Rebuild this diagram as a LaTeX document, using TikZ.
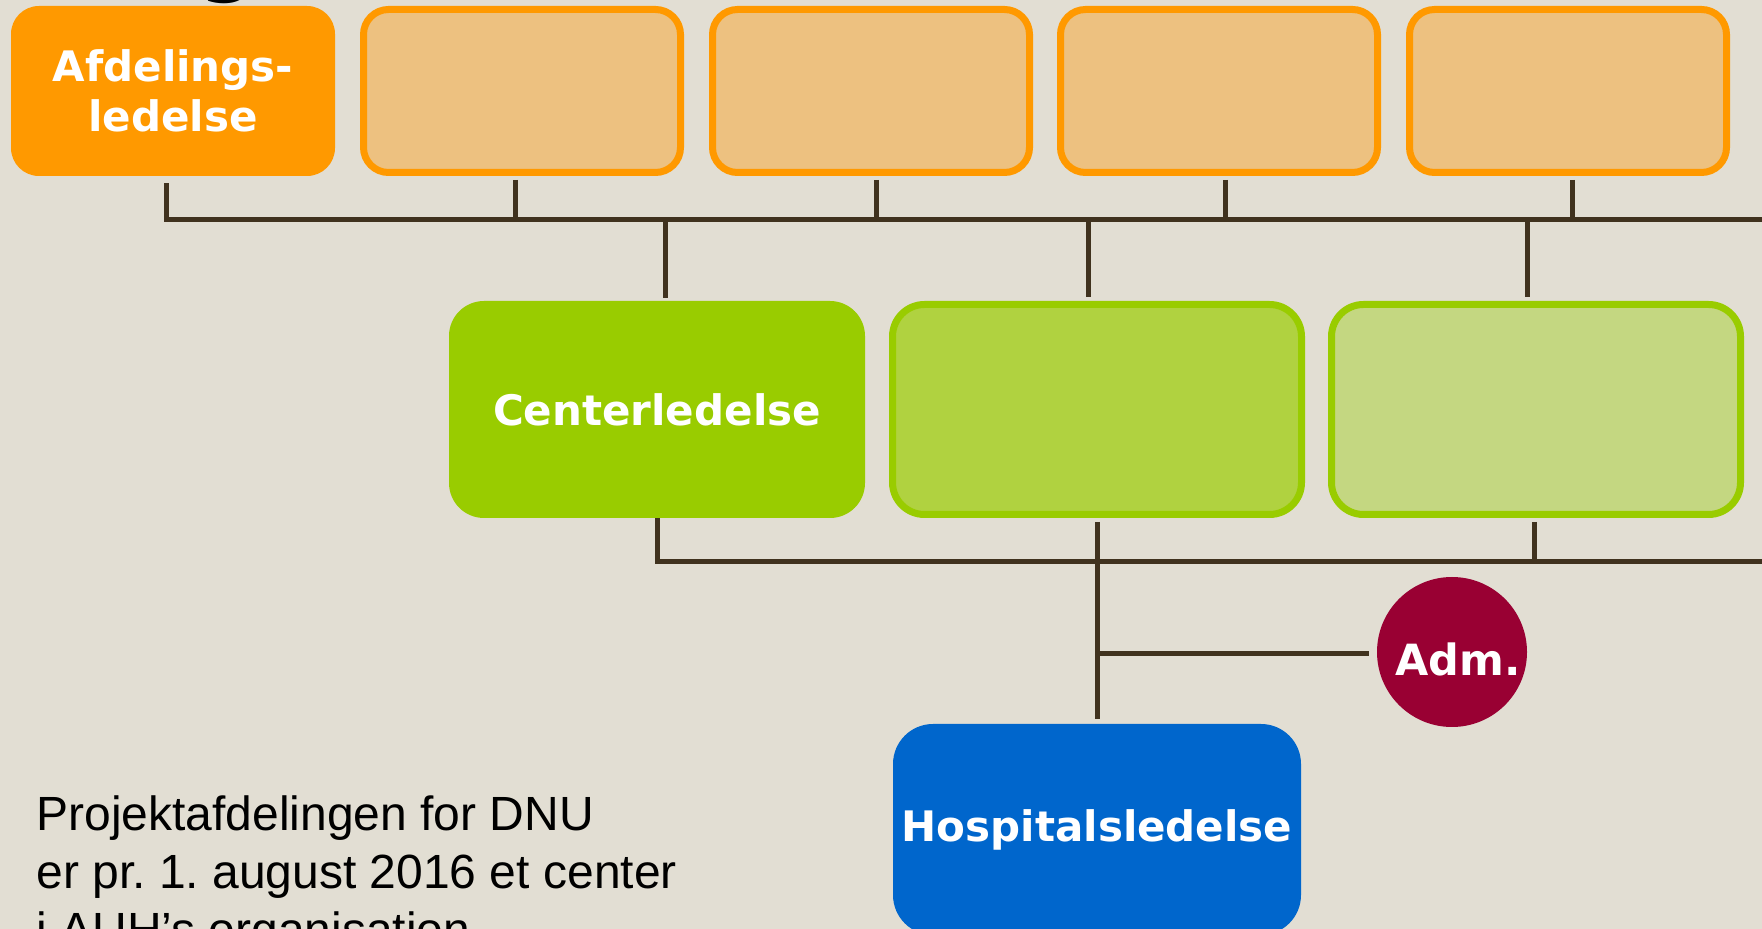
\documentclass[tikz,border=0pt]{standalone}
\usepackage{fontspec}
\setmainfont{Liberation Sans}
\newfontfamily\boxfont{DejaVu Sans}
\usetikzlibrary{calc}
\definecolor{bg}{HTML}{E2DED3}
\definecolor{orangeS}{HTML}{FF9900}
\definecolor{orangeL}{HTML}{EDC180}
\definecolor{greenS}{HTML}{99CC00}
\definecolor{greenM}{HTML}{B0D240}
\definecolor{greenL}{HTML}{C4D781}
\definecolor{blueS}{HTML}{0066CC}
\definecolor{admC}{HTML}{990033}
\definecolor{lineC}{HTML}{40321E}
\tikzset{
  osolid/.style={rectangle, rounded corners=14pt, fill=orangeS, minimum width=162pt, minimum height=85pt, inner sep=0pt},
  obox/.style={rectangle, rounded corners=12.5pt, draw=orangeS, line width=3.5pt, fill=orangeL, minimum width=158.5pt, minimum height=81.5pt, inner sep=0pt},
  gsolid/.style={rectangle, rounded corners=17.5pt, fill=greenS, minimum width=208pt, minimum height=108.5pt, inner sep=0pt},
  gbox/.style={rectangle, rounded corners=16pt, draw=greenS, line width=3.5pt, minimum width=204.5pt, minimum height=105pt, inner sep=0pt},
  hbox/.style={rectangle, rounded corners=20pt, fill=blueS, minimum width=204pt, minimum height=105.5pt, inner sep=0pt},
  admnode/.style={circle, fill=admC, minimum size=75pt, inner sep=0pt},
  lbl/.style={text=white, font=\boxfont\bfseries\fontsize{21}{25}\selectfont, align=center},
  conn/.style={draw=lineC, line width=2.5pt},
}
\begin{document}
\frenchspacing
\begin{tikzpicture}[x=0.5pt,y=-0.5pt]
\useasboundingbox (0,0) rectangle (1762,929);
\clip (0,0) rectangle (1762,929);
\fill[bg] (0,0) rectangle (1762,929);

% title fragment
\node[anchor=base, inner sep=0pt, text=black, font=\boxfont\bfseries\fontsize{40}{48}\selectfont] (tg) at (228,-13) {g};

% top row
\node[osolid,lbl] (o1) at (173,91) {Afdelings-\\ledelse};
\node[obox] (o2) at (522,91) {};
\node[obox] (o3) at (871,91) {};
\node[obox] (o4) at (1219,91) {};
\node[obox] (o5) at (1568,91) {};

% middle row
\node[gsolid,lbl] (g1) at (657,409.5) {Centerledelse};
\node[gbox, fill=greenM] (g2) at (1097,409.5) {};
\node[gbox, fill=greenL] (g3) at (1536,409.5) {};

% bottom
\node[hbox,lbl] (h) at (1097,829.5) {Hospitalsledelse};
\node[admnode] (a) at (1452,652) {};
\node[lbl, inner sep=0pt, font=\boxfont\bfseries\fontsize{21.5}{25}\selectfont] (al) at (1458,659) {Adm.};

\node[anchor=north west, inner sep=0pt, align=left, font=\fontsize{24}{29}\selectfont] (txt) at (36,795) {Projektafdelingen for DNU\\er pr. 1. august 2016 et center\\i AUH’s organisation};

% top bus
\coordinate (busR) at (1762,220);
\coordinate (s1) at ($(o1.south)+(-7,7)$);
\draw[conn] (s1) |- (busR);
\coordinate (s2) at ($(o2.south)+(-7,4)$);
\coordinate (s3) at ($(o3.south)+(5,4)$);
\coordinate (s4) at ($(o4.south)+(6,4)$);
\coordinate (s5) at ($(o5.south)+(4,4)$);
\foreach \s in {s2,s3,s4,s5} \draw[conn] (\s) -- (\s |- busR);

% drops to centre row
\coordinate (d1) at ($(g1.north)+(8,-3)$);
\coordinate (d2) at ($(g2.north)+(-9,-4)$);
\coordinate (d3) at ($(g3.north)+(-9,-4)$);
\foreach \d in {d1,d2,d3} \draw[conn] (\d |- busR) -- (\d);

% lower bus
\coordinate (busB) at (1762,562);
\draw[conn] (g1.south) |- (busB);
\coordinate (c2) at ($(g2.south)+(0,4)$);
\coordinate (c3) at ($(g3.south)+(-2,4)$);
\draw[conn] (c3) -- (c3 |- busB);
\draw[conn] (c2) -- ($(h.north)+(0,-5)$);
\coordinate (aj) at ($(c2 |- a.west)+(0,2)$);
\draw[conn] (aj) -- ($(aj -| a.west)+(-8,0)$);
\end{tikzpicture}
\end{document}
